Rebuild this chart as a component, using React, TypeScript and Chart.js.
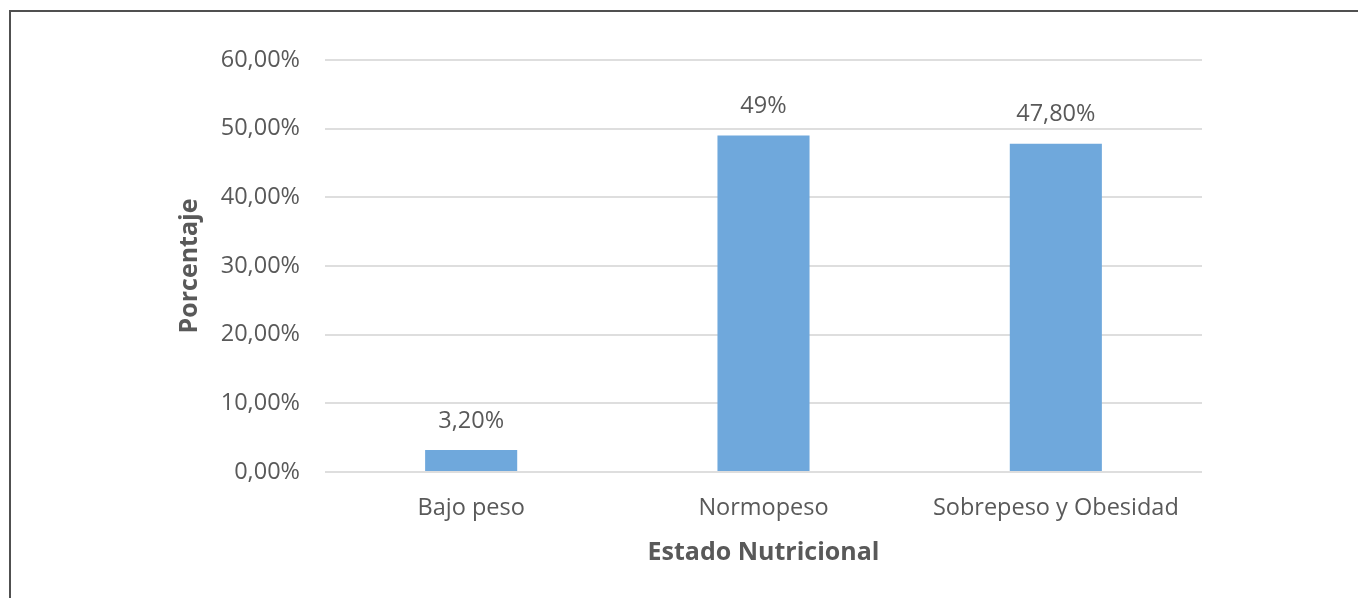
import React, { useEffect, useRef } from "react";
import { Chart, registerables } from "chart.js";

Chart.register(...registerables);

const categories = ["Bajo peso", "Normopeso", "Sobrepeso y Obesidad"];
const values = [3.2, 49, 47.8];
const valueLabels = ["3,20%", "49%", "47,80%"];
const yMin = 0;
const yMax = 60;
const yStep = 10;
const xTitle = "Estado Nutricional";
const yTitle = "Porcentaje";

const FONT = "'Open Sans', 'Noto Sans', sans-serif";
const TEXT = "#595959";

const valueLabelPlugin = {
  id: "valueLabels",
  afterDatasetsDraw(chart: any) {
    const ctx = chart.ctx;
    const meta = chart.getDatasetMeta(0);
    ctx.save();
    ctx.font = `23.5px ${FONT}`;
    ctx.fillStyle = TEXT;
    ctx.textAlign = "center";
    ctx.textBaseline = "middle";
    meta.data.forEach((bar: any, i: number) => {
      ctx.fillText(valueLabels[i], bar.x, bar.y - 29);
    });
    ctx.restore();
  },
};

export default function App() {
  const ref = useRef<HTMLCanvasElement | null>(null);

  useEffect(() => {
    document.body.style.overflow = "hidden";
    const canvas = ref.current;
    if (!canvas) return;
    const chart = new Chart(canvas, {
      type: "bar",
      data: {
        labels: categories,
        datasets: [
          {
            data: values,
            backgroundColor: "#6fa8dc",
            borderWidth: 0,
            barPercentage: 0.315,
            categoryPercentage: 1,
          },
        ],
      },
      options: {
        responsive: false,
        animation: false,
        layout: { padding: { top: 60, right: 156, bottom: 0, left: 0 } },
        plugins: {
          legend: { display: false },
          tooltip: { enabled: false },
        },
        scales: {
          x: {
            grid: { display: false, drawTicks: false },
            border: { display: false },
            ticks: {
              padding: 22,
              color: TEXT,
              font: { family: FONT, size: 23.5 },
            },
            title: {
              display: true,
              text: xTitle,
              color: TEXT,
              font: { family: FONT, size: 25, weight: "bold" },
              padding: { top: 0, bottom: 30 },
            },
            afterFit(scale: any) {
              scale.height = 126;
            },
          },
          y: {
            min: yMin,
            max: yMax,
            grid: { color: "#dedede", lineWidth: 2, drawTicks: false },
            border: { display: false },
            ticks: {
              stepSize: yStep,
              padding: 25,
              color: TEXT,
              font: { family: FONT, size: 23.5 },
              callback: (v: any) => Number(v).toFixed(2).replace(".", ",") + "%",
            },
            title: {
              display: true,
              text: yTitle,
              color: TEXT,
              font: { family: FONT, size: 25, weight: "bold" },
              padding: { top: 175, bottom: 0 },
            },
            afterFit(scale: any) {
              scale.width = 325;
            },
          },
        },
      },
      plugins: [valueLabelPlugin],
    });
    return () => chart.destroy();
  }, []);

  return (
    <div>
      <canvas
        ref={ref}
        width={1358}
        height={598}
        style={{ position: "fixed", left: 0, top: 0, display: "block" }}
      />
      <div
        style={{
          position: "fixed",
          left: 9,
          top: 10,
          right: 0,
          bottom: 0,
          borderTop: "2px solid #505050",
          borderLeft: "2px solid #505050",
          pointerEvents: "none",
        }}
      />
    </div>
  );
}
